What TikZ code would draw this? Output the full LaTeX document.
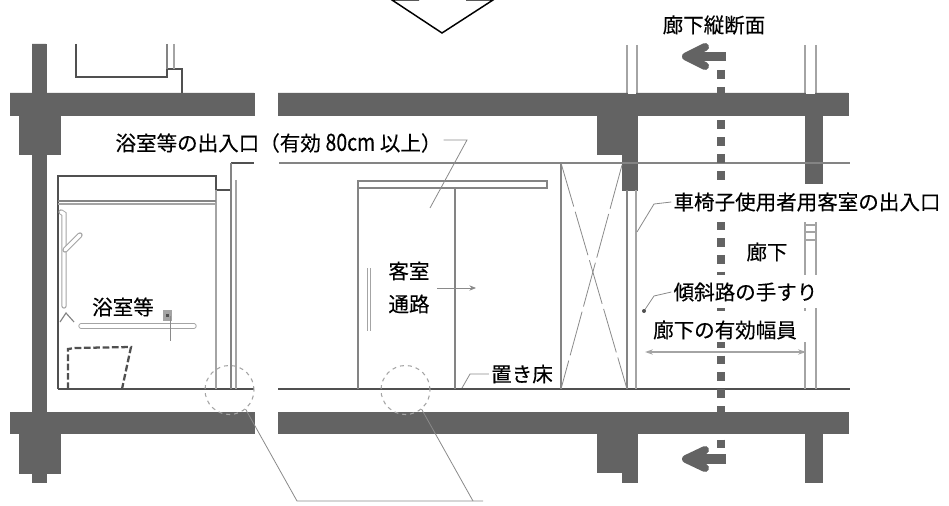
\documentclass[tikz,border=0pt]{standalone}
\usepackage{fontspec}
\setmainfont{Noto Sans CJK JP}
\newfontfamily\tagfont{Noto Sans CJK JP}[FakeBold=0.25]
\usetikzlibrary{arrows.meta}

\begin{document}
\begin{tikzpicture}[x=0.75pt,y=0.75pt,
  wall/.style={fill=wallgray,draw=wallgray,line width=0.4pt},
  thin line/.style={draw=linegray,line width=0.85pt},
  pale line/.style={draw=palegray,line width=0.9pt},
  dark line/.style={draw=darkgray,line width=0.9pt},
  leader/.style={draw=leadgray,line width=0.6pt},
  detail/.style={circle,draw=palegray,line width=0.8pt,dashed,minimum size=36.75pt},
  tag/.style={font=\tagfont\fontsize{15.4}{18}\selectfont,text=black,fill=white,inner sep=1.5pt},
  plain tag/.style={tag,fill=none}]
\definecolor{wallgray}{HTML}{636363}
\definecolor{linegray}{HTML}{848484}
\definecolor{palegray}{HTML}{A4A4A4}
\definecolor{darkgray}{HTML}{505050}
\definecolor{leadgray}{HTML}{8A8A8A}
\useasboundingbox (0,0) rectangle (949,-506);
\tikzstyle{every node}+=[inner sep=0pt]
% view arrow
\draw [black,line width=1.1pt] (419,0) -- (392,0) -- (442,-33) -- (493,0) -- (466,0);
% upper floor
\draw [dark line] (76,-44) -- (76,-77) -- (167,-77) -- (167,-69) -- (182,-69) -- (182,-93);
\draw [thin line] (167,-44) -- (167,-69);
\draw [pale line] (174,-44) -- (174,-69);
\draw [pale line] (627,-45) -- (627,-93);
\draw [pale line] (637,-45) -- (637,-93);
\draw [pale line] (805,-45) -- (805,-93);
\draw [pale line] (816,-45) -- (816,-93);
% walls and beams
\fill [wall] (32,-44) -- (46,-44) -- (46,-93) -- (254,-93) -- (254,-115) -- (60,-115) -- (60,-154) -- (46,-154)
  -- (46,-412) -- (254,-412) -- (254,-433) -- (60,-433) -- (60,-473) -- (46,-473) -- (46,-482) -- (32,-482)
  -- (32,-473) -- (19,-473) -- (19,-433) -- (10,-433) -- (10,-412) -- (32,-412) -- (32,-154) -- (19,-154)
  -- (19,-115) -- (10,-115) -- (10,-93) -- (32,-93) -- cycle;
\fill [wall] (278,-93) -- (848,-93) -- (848,-115) -- (822,-115) -- (822,-190) -- (805,-190) -- (805,-115)
  -- (637,-115) -- (637,-190) -- (622,-190) -- (622,-154) -- (597,-154) -- (597,-115) -- (278,-115) -- cycle;
\fill [wall] (278,-412) -- (848,-412) -- (848,-433) -- (822,-433) -- (822,-482) -- (805,-482) -- (805,-433)
  -- (637,-433) -- (637,-482) -- (622,-482) -- (622,-472) -- (597,-472) -- (597,-433) -- (278,-433) -- cycle;
\fill [white] (628,-91) rectangle (636,-94);
\fill [white] (806,-91) rectangle (815,-94);
% ceiling and floor
\draw [dark line] (231,-163) -- (254,-163);
\draw [thin line] (279,-163) -- (850,-163);
\draw [dark line] (58,-389) -- (254,-389);
\draw [dark line] (278,-389) -- (850,-389);
% bathroom unit
\draw [dark line] (231,-190) -- (216,-190) -- (216,-176) -- (58,-176) -- (58,-389);
\draw [thin line] (231,-163) -- (231,-389);
\draw [pale line] (236,-180) -- (236,-389);
\draw [pale line] (216,-190) -- (216,-389);
\draw [thin line] (58,-201) -- (216,-201);
\draw [pale line] (58,-204) -- (216,-204);
\draw [pale line,line width=0.7pt,double=white,double distance=2.6pt,line cap=round] (61,-212) -- (64,-214) -- (64,-306);
\draw [pale line,line width=0.7pt,double=white,double distance=2.6pt,line cap=round] (65,-250) -- (80,-235);
\draw [pale line,line width=0.7pt,double=white,double distance=2.6pt,line cap=round] (81,-326) -- (194,-326);
\draw [thin line] (60,-322) -- (66,-313) -- (74,-322);
\fill [palegray] (163,-310) rectangle (172,-321);
\fill [darkgray] (166,-314) rectangle (169,-317);
\draw [leader] (170,-316) -- (170,-341);
\draw [darkgray,line width=1.7pt,dash pattern=on 5pt off 2pt] (68,-389) -- (68,-349) -- (75,-348) -- (131,-347) -- (122,-389);
% door
\draw [thin line] (358,-188) rectangle (547,-181);
\draw [thin line] (358,-188) -- (358,-389);
\draw [thin line] (455,-188) -- (455,-389);
\draw [pale line,double=white,double distance=1.4pt,line width=0.6pt] (369,-268) -- (369,-331);
\draw [thin line] (561,-163) -- (561,-389);
\draw [thin line] (627,-190) -- (627,-389);
\draw [pale line] (636,-190) -- (636,-389);
\draw [leader,dash pattern=on 34pt off 4pt] (561,-163) -- (627,-389);
\draw [leader,dash pattern=on 34pt off 4pt] (622,-165) -- (561,-389);
\draw [leader,-{Stealth[length=5pt,width=4pt]}] (437,-288) -- (476,-288);
% corridor
\draw [pale line] (805,-222) -- (805,-389);
\draw [pale line] (816,-222) -- (816,-389);
\foreach \rungy in {225,232,240}
  \draw [pale line] (805,-\rungy) -- (816,-\rungy);
\draw [wallgray,line width=6.3pt,dash pattern=on 6.6pt off 6pt] (721,-70) -- (721,-448);
\draw [wallgray,line width=7pt] (726,-56.5) -- (690,-56.5);
\draw [wallgray,line width=6pt,line cap=round,line join=round] (705,-47) -- (686,-56.5) -- (705,-66);
\draw [wallgray,line width=7pt] (726,-459) -- (690,-459);
\draw [wallgray,line width=6pt,line cap=round,line join=round] (705,-450) -- (686,-459) -- (705,-468);
% detail circles
\node [detail] (bath_circ) at (229.5,-390) {};
\node [detail] (room_circ) at (405.5,-390) {};
\coordinate (detail_knee) at (297,-501);
\coordinate (detail_end) at (483,-501);
\coordinate (detail_mid) at (473,-501);
\draw [leader] (bath_circ.-50) -- (detail_knee) -- (detail_end);
\draw [leader] (room_circ.-50) -- (detail_mid);
% labels
\fill [white] (668,-275) rectangle (850,-308);
\fill [white] (646,-311) rectangle (806,-342);
\fill [white] (670,-184) rectangle (949,-222);
\node [plain tag] (corr_sec) at (714,-25) {廊下縦断面};
\node [plain tag] (bath_door) at (278.5,-143) {浴室等の出入口（有効\hspace{3.5pt}\scalebox{0.95}[1.15]{80cm}\hspace{3.5pt}以上）};
\node [tag] (bath_lbl) at (123,-307) {浴室等};
\node [tag] (room_lbl) at (409,-271) {客室};
\node [tag] (path_lbl) at (409,-304) {通路};
\node [tag] (floor_lbl) at (522,-374) {置き床};
\node [tag] (room_door) at (807,-202) {車椅子使用者用客室の出入口};
\node [tag] (corr_lbl) at (767,-252) {廊下};
\node [plain tag] (ramp_lbl) at (745.5,-292) {傾斜路の手すり};
\node [plain tag] (width_lbl) at (725,-330) {廊下の有効幅員};
% leaders
\coordinate (bath_door_a) at (467,-140);
\coordinate (bath_door_b) at (430,-208);
\draw [leader] (bath_door.east |- bath_door_a) -- (bath_door_a) -- (bath_door_b);
\coordinate (floor_a) at (470,-374);
\coordinate (floor_b) at (462,-388);
\draw [leader] (floor_lbl.west) -- (floor_a) -- (floor_b);
\coordinate (room_door_a) at (654,-204);
\coordinate (room_door_b) at (637,-232);
\draw [leader] (room_door.west) -- (room_door_a) -- (room_door_b);
\coordinate (ramp_a) at (654,-296);
\coordinate (ramp_b) at (644,-311);
\draw [leader] (ramp_lbl.west) -- (ramp_a) -- (ramp_b);
\fill [darkgray] (ramp_b) circle (1.5pt);
\coordinate (width_l) at (645,-352);
\coordinate (width_r) at (806,-352);
\draw [pale line,<->,>={Stealth[length=6pt,width=4pt]}] (width_l) -- (width_r);
\end{tikzpicture}
\end{document}
